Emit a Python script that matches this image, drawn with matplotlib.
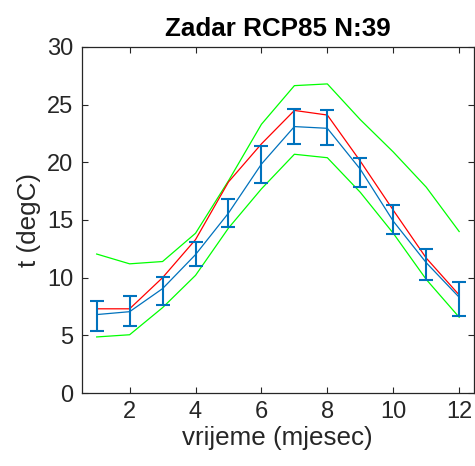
import numpy as np
import matplotlib
matplotlib.use("Agg")
import matplotlib.pyplot as plt

plt.rcParams['font.family'] = ['Liberation Sans', 'DejaVu Sans']

# mjeseci
months = [1, 2, 3, 4, 5, 6, 7, 8, 9, 10, 11, 12]

# srednja vrijednost (plavo) i granice error bara
mean_t = [6.8, 7.05, 9.05, 12.0, 15.6, 19.85, 23.1, 22.95, 19.4, 14.9, 11.3, 8.3]
err_hi = [8.0, 8.4, 10.1, 13.05, 16.8, 21.4, 24.6, 24.5, 20.4, 16.3, 12.5, 9.65]
err_lo = [5.4, 5.8, 7.6, 11.05, 14.4, 18.2, 21.6, 21.5, 17.9, 13.8, 9.8, 6.7]

# crvena krivulja
red_t = [7.3, 7.3, 10.0, 13.3, 18.3, 21.6, 24.5, 24.1, 20.1, 15.85, 11.7, 8.5]

# zelene granice
green_hi = [12.05, 11.2, 11.4, 13.85, 18.4, 23.3, 26.65, 26.8, 23.7, 20.9, 17.85, 14.0]
green_lo = [4.86, 5.05, 7.4, 10.2, 14.3, 17.7, 20.7, 20.4, 17.4, 13.85, 9.85, 6.57]

x_ticks = [2, 4, 6, 8, 10, 12]
y_ticks = [0, 5, 10, 15, 20, 25, 30]

txt = '#262626'

fig = plt.figure(figsize=(4.75, 4.66), dpi=100)
ax = fig.add_axes([81.5 / 475, 73 / 466, 392.5 / 475, 346 / 466])

m = np.array(mean_t)
yerr = [m - np.array(err_lo), np.array(err_hi) - m]

ax.plot(months, green_hi, color='#00ff00', lw=0.9)
ax.plot(months, green_lo, color='#00ff00', lw=0.9)
ax.plot(months, red_t, color='#ff0000', lw=0.9)
ax.errorbar(months, mean_t, yerr=yerr, color='#0072bd', lw=0.9,
            elinewidth=1.5, capsize=5, capthick=1.5)

ax.set_xlim(0.54, 12.45)
ax.set_ylim(0, 30)
ax.set_xticks(x_ticks)
ax.set_yticks(y_ticks)
ax.tick_params(direction='in', top=True, right=True, length=4, width=0.8,
               colors=txt, labelsize=17, pad=6)
for sp in ax.spines.values():
    sp.set_color(txt)
    sp.set_linewidth(0.9)

ax.set_xlabel('vrijeme (mjesec)', fontsize=18.7, color=txt, labelpad=2)
ax.set_ylabel('t (degC)', fontsize=18.7, color=txt, labelpad=4)
ax.set_title('Zadar RCP85 N:39', fontsize=18.7, fontweight='bold', pad=8)

fig.savefig('out.png', dpi=100)
